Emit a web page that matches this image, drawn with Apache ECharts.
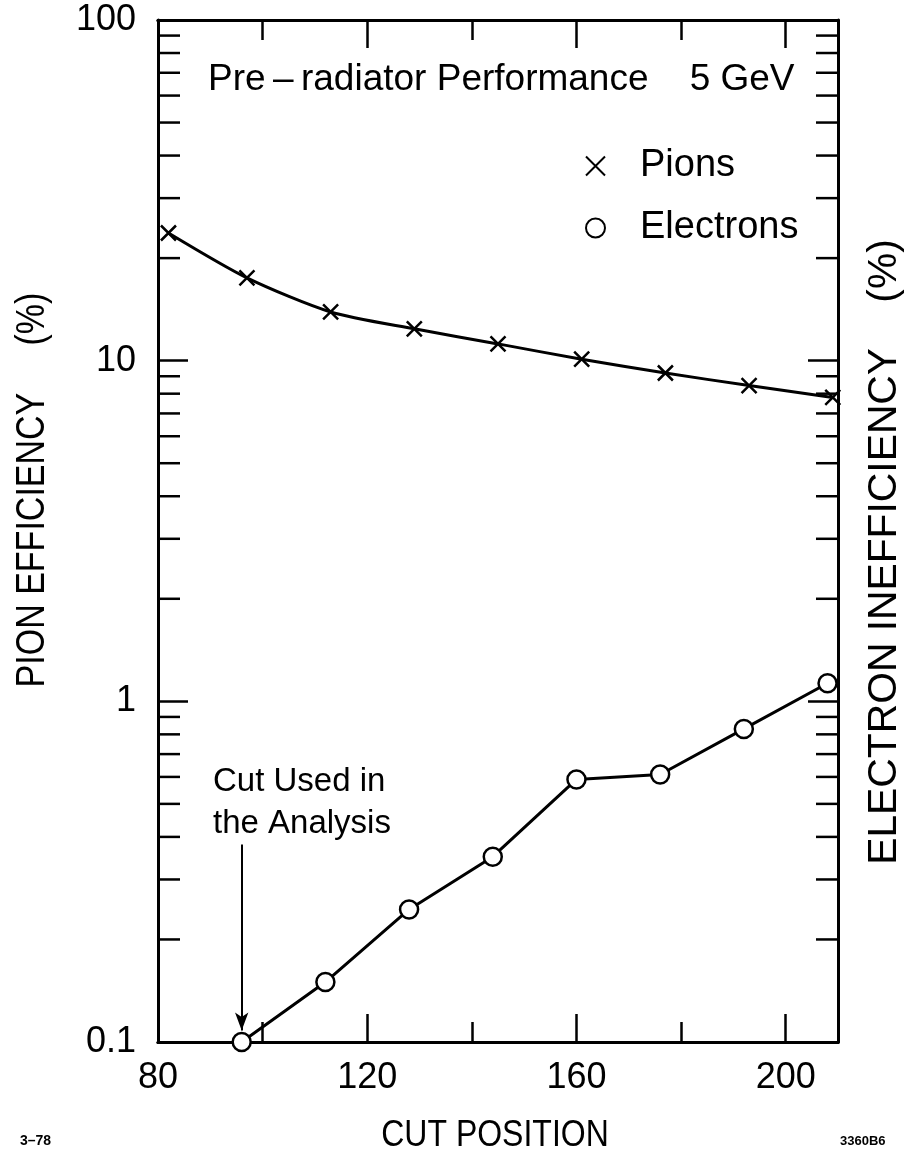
<!DOCTYPE html>
<html>
<head>
<meta charset="utf-8">
<script src="https://cdn.jsdelivr.net/npm/echarts@6/dist/echarts.min.js"></script>
<style>html,body{margin:0;padding:0;background:#fff}#c{width:909px;height:1155px}</style>
</head>
<body>
<div id="c"></div>
<script>
// ---- data ----
const pionX = [82, 97, 113, 129, 145, 161, 177, 193, 209];
const pionY = [23.7, 17.5, 13.9, 12.4, 11.2, 10.1, 9.2, 8.45, 7.8];
const electronX = [96, 112, 128, 144, 160, 176, 192, 208];
const electronY = [0.1, 0.15, 0.245, 0.35, 0.59, 0.61, 0.83, 1.13];
const xTickLabels = [80, 120, 160, 200];
const yTickLabels = [0.1, 1, 10, 100];
const yMinorTicks = [0.2,0.3,0.4,0.5,0.6,0.7,0.8,0.9, 2,3,4,5,6,7,8,9, 20,30,40,50,60,70,80,90];
const cutArrow = {x: 96, from: 0.38, to: 0.108};
const xMin = 80, xMax = 210, yMin = 0.1, yMax = 100;

const FONT = 'Liberation Sans';
const chart = echarts.init(document.getElementById('c'), null, {renderer: 'canvas'});

function xAxisDef(pos, interval, tickLen, showLabels) {
  return {
    type: 'value', position: pos, min: xMin, max: xMax, interval: interval,
    axisLine: {show: true, onZero: false, lineStyle: {color: '#000', width: 3}},
    axisTick: {show: true, inside: true, length: tickLen, lineStyle: {color: '#000', width: 2.5}},
    axisLabel: {
      show: showLabels, margin: 18, fontSize: 36, color: '#000', fontFamily: FONT,
      formatter: v => xTickLabels.includes(v) ? String(v) : ''
    },
    splitLine: {show: false}
  };
}
function yAxisDef(pos, showLabels) {
  return {
    type: 'log', logBase: 10, position: pos, min: yMin, max: yMax,
    axisLine: {show: true, lineStyle: {color: '#000', width: 3}},
    axisTick: {show: true, inside: true, length: 30, lineStyle: {color: '#000', width: 2.5}},
    axisLabel: {
      show: showLabels, margin: 22, fontSize: 36, color: '#000', fontFamily: FONT,
      formatter: v => { const r = yTickLabels.find(t => Math.abs(t - v) / t < 1e-6); return r === undefined ? '' : String(r); }
    },
    splitLine: {show: false}
  };
}

const option = {
  backgroundColor: '#fff',
  animation: false,
  grid: {left: 158, right: 71, top: 20, bottom: 113, containLabel: false},
  title: {
    text: 'Pre\u2009\u2013\u2009radiator Performance    5 GeV',
    left: 203, top: 56,
    textStyle: {fontSize: 37, fontWeight: 'normal', color: '#000', fontFamily: FONT}
  },
  legend: {
    orient: 'vertical', left: 580, top: 142, itemGap: 24,
    itemWidth: 19, itemHeight: 19,
    textStyle: {fontSize: 38, color: '#000', fontFamily: FONT, padding: [0, 0, 0, 30]},
    data: [
      {name: 'Pions', icon: 'path://M0,0L10,10M10,0L0,10'},
      {name: 'Electrons', icon: 'circle'}
    ]
  },
  xAxis: [
    xAxisDef('bottom', 40, 28, true),
    xAxisDef('bottom', 20, 20, false),
    xAxisDef('top', 40, 28, false),
    xAxisDef('top', 20, 20, false)
  ],
  yAxis: [yAxisDef('left', true), yAxisDef('right', false)],
  graphic: [
    {type: 'text', left: 213, top: 761, style: {text: 'Cut Used in\nthe Analysis', fontSize: 33, lineHeight: 42, fill: '#000', fontFamily: FONT}},
    {type: 'text', x: 33, y: 490, rotation: Math.PI / 2, scaleX: 1.0, scaleY: 1.2,
      style: {text: 'PION EFFICIENCY     (%)', fontSize: 34, fill: '#000', fontFamily: FONT, align: 'center', verticalAlign: 'middle'}},
    {type: 'text', x: 885, y: 552, rotation: Math.PI / 2, scaleX: 1.2, scaleY: 1.2,
      style: {text: 'ELECTRON INEFFICIENCY    (%)', fontSize: 34, fill: '#000', fontFamily: FONT, align: 'center', verticalAlign: 'middle'}},
    {type: 'text', x: 495, y: 1136, scaleY: 1.15,
      style: {text: 'CUT POSITION', fontSize: 32, fill: '#000', fontFamily: FONT, align: 'center', verticalAlign: 'middle'}},
    {type: 'text', x: 20, y: 1141,
      style: {text: '3\u201378', fontSize: 14, fontWeight: 'bold', fill: '#000', fontFamily: FONT, verticalAlign: 'middle'}},
    {type: 'text', x: 840, y: 1141,
      style: {text: '3360B6', fontSize: 13, fontWeight: 'bold', fill: '#000', fontFamily: FONT, verticalAlign: 'middle'}}
  ],
  series: [
    {
      name: 'Pions', type: 'line', xAxisIndex: 0, yAxisIndex: 0,
      data: pionX.map((x, i) => [x, pionY[i]]),
      smooth: 0.25,
      symbol: 'path://M0,0L10,10M10,0L0,10', symbolSize: 15,
      itemStyle: {color: '#000', borderColor: '#000', borderWidth: 2.5},
      lineStyle: {color: '#000', width: 3},
      z: 3
    },
    {
      name: 'Electrons', type: 'line', xAxisIndex: 0, yAxisIndex: 0,
      data: electronX.map((x, i) => [x, electronY[i]]),
      symbol: 'circle', symbolSize: 18,
      itemStyle: {color: '#fff', borderColor: '#000', borderWidth: 2.5},
      lineStyle: {color: '#000', width: 3},
      z: 4,
      markLine: {
        silent: true, symbol: ['none', 'arrow'], symbolSize: [10, 18],
        label: {show: false},
        lineStyle: {color: '#000', width: 2, type: 'solid'},
        data: [[{coord: [cutArrow.x, cutArrow.from]}, {coord: [cutArrow.x, cutArrow.to]}]]
      }
    },
    {
      name: 'minorTicks', type: 'custom', xAxisIndex: 0, yAxisIndex: 0,
      silent: true, z: 2,
      data: yMinorTicks.map(v => [xMin, v]),
      renderItem: function (params, api) {
        const cs = params.coordSys;
        const y = api.coord([api.value(0), api.value(1)])[1];
        const st = {stroke: '#000', lineWidth: 2.5};
        return {type: 'group', children: [
          {type: 'line', shape: {x1: cs.x, y1: y, x2: cs.x + 22, y2: y}, style: st},
          {type: 'line', shape: {x1: cs.x + cs.width, y1: y, x2: cs.x + cs.width - 22, y2: y}, style: st}
        ]};
      }
    }
  ]
};
chart.setOption(option);
</script>
</body>
</html>
